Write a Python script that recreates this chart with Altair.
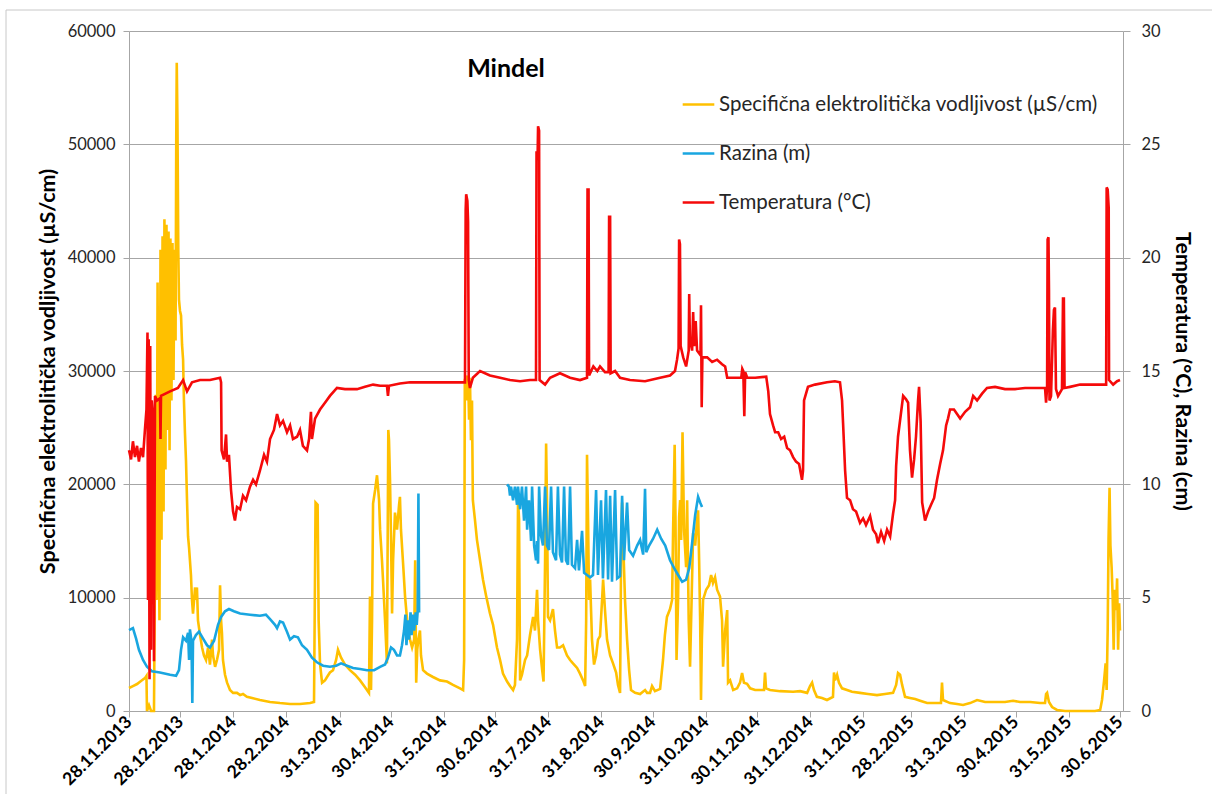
import altair as alt
import pandas as pd

# Monitoring start; all series are given as (days since start, value)
POCETAK = pd.Timestamp("2013-11-28")

# Specifična elektrolitička vodljivost (µS/cm)
SEV = [
    (0, 2030), (2.3, 2200), (4.7, 2380), (7.0, 2650), (9.3, 2900), (10.2, 3100), (10.5, 0), (11.7, 500),
    (12.9, 0), (14.6, 0), (15.2, 13300), (15.6, 27900), (16.1, 9800), (16.7, 37800), (17.2, 18600),
    (17.8, 8000), (18.4, 40700), (19.0, 15100), (19.6, 41900), (20.2, 17600), (20.7, 43400), (21.3, 21300),
    (21.9, 42900), (22.5, 24800), (23.1, 42300), (23.7, 23000), (24.2, 41700), (24.8, 27400), (25.4, 41300),
    (26.0, 29200), (26.6, 40700), (27.2, 32700), (27.6, 50400), (27.9, 57200), (28.3, 52100), (28.8, 40700),
    (29.2, 36300), (29.8, 35300), (30.4, 34900), (31.0, 32300), (31.6, 31000), (32.1, 27400), (32.7, 24500),
    (33.3, 22100), (33.9, 18600), (34.5, 15400), (35.1, 14400), (35.6, 13300), (36.2, 12000), (36.8, 9800),
    (37.4, 8600), (38.6, 10900), (39.1, 9800), (39.7, 10900), (40.3, 8000), (41.5, 6700), (42.7, 5600),
    (43.8, 4900), (45.0, 4500), (46.2, 5600), (47.3, 4100), (48.5, 6300), (49.1, 4900), (50.3, 3900),
    (51.4, 4500), (52.6, 5400), (53.2, 11100), (53.8, 8000), (54.3, 6900), (54.9, 4500), (56.1, 3200),
    (57.3, 2500), (59.0, 1850), (60.8, 1600), (63.1, 1600), (64.9, 1400), (66.6, 1500), (68.9, 1250),
    (71.9, 1150), (76.5, 970), (82.4, 800), (88.2, 700), (94.1, 620), (99.9, 620), (105.8, 700), (108.1, 800),
    (109.0, 18400), (110.2, 18200), (110.8, 8000), (111.6, 4200), (112.8, 2500), (114.5, 2700), (115.7, 3000),
    (117.4, 3400), (119.2, 3600), (121.0, 4500), (122.1, 5400), (123.9, 4700), (126.2, 4100), (129.1, 3600),
    (132.1, 3200), (135.0, 2700), (137.9, 2100), (140.2, 1600), (140.8, 10100), (141.4, 1850), (142.0, 8000),
    (142.6, 18300), (143.8, 19500), (144.9, 20800), (146.1, 18600), (146.7, 16000), (147.8, 13300),
    (148.4, 11600), (149.6, 8000), (150.7, 4200), (151.2, 16900), (151.5, 24800), (151.9, 23900),
    (152.5, 20400), (153.1, 15100), (153.7, 8600), (154.3, 13300), (155.4, 17500), (156.6, 16000),
    (157.8, 18200), (158.3, 18900), (158.9, 16000), (160.1, 13100), (161.3, 10100), (162.5, 8000),
    (163.1, 7100), (164.2, 6300), (165.4, 5600), (166.6, 6300), (167.2, 13300), (167.8, 2500), (168.4, 5400),
    (169.0, 6300), (170.0, 7100), (170.6, 4900), (171.8, 3600), (174.1, 3300), (177.6, 3000), (181.7, 2700),
    (185.8, 2600), (189.3, 2300), (193.4, 2000), (195.2, 1850), (195.8, 4500), (196.2, 29200), (197.0, 29600),
    (197.5, 27400), (198.1, 29600), (198.7, 25700), (199.2, 29400), (199.8, 23900), (200.4, 27400),
    (200.9, 18600), (202.1, 16900), (203.3, 15100), (205.1, 13300), (206.8, 11600), (208.6, 10200),
    (210.9, 8600), (212.7, 7600), (215.0, 5600), (216.8, 4500), (218.5, 3300), (220.9, 2600), (222.6, 2200),
    (224.4, 1850), (225.5, 2300), (226.7, 6300), (227.3, 18600), (227.9, 16900), (228.5, 2700), (229.6, 3200),
    (231.4, 4500), (232.6, 4900), (234.3, 6700), (236.1, 8300), (237.2, 7100), (238.4, 10700), (239.0, 8000),
    (240.2, 5400), (241.4, 3600), (242.2, 2600), (243.1, 13300), (243.7, 23600), (244.2, 18600),
    (244.8, 8300), (246.0, 8000), (247.7, 9000), (248.9, 7100), (250.1, 5600), (251.8, 5600), (253.6, 5800),
    (255.9, 4900), (257.7, 4500), (259.4, 4200), (261.8, 3800), (263.5, 3300), (265.3, 2700), (266.5, 2200),
    (267.1, 8000), (267.6, 22600), (268.2, 16900), (268.8, 9800), (269.4, 11600), (270.5, 6300),
    (271.7, 4100), (272.9, 4900), (274.0, 6300), (275.2, 6600), (276.4, 9800), (277.0, 11600), (278.1, 8900),
    (279.3, 6300), (281.1, 4900), (282.8, 4200), (284.6, 3400), (285.7, 2300), (286.9, 1600), (287.5, 13300),
    (288.1, 18400), (288.7, 15100), (289.8, 9800), (291.0, 6300), (292.2, 3600), (293.3, 1850), (295.7, 1600),
    (298.6, 1500), (301.5, 1850), (302.7, 1600), (304.4, 1600), (305.6, 2200), (307.3, 1750), (310.3, 1950),
    (312.0, 4500), (313.1, 6700), (314.3, 8300), (316.1, 9000), (317.3, 9800), (317.9, 16000), (318.8, 23500),
    (319.3, 16900), (319.9, 4500), (320.8, 9800), (321.4, 17100), (322.0, 18600), (322.6, 15100),
    (323.4, 24600), (324.3, 16000), (325.5, 12700), (326.1, 18600), (327.0, 8000), (327.8, 3900),
    (328.7, 9800), (329.6, 15700), (330.8, 14600), (331.9, 16900), (332.5, 17700), (333.1, 13300),
    (333.7, 8000), (334.2, 970), (334.7, 6300), (335.4, 9800), (337.2, 10700), (338.9, 11100), (340.1, 12000),
    (341.2, 11300), (342.4, 11800), (343.6, 10700), (345.3, 10100), (346.5, 8000), (347.1, 3900),
    (348.3, 7100), (349.5, 8900), (350.0, 2500), (351.2, 2700), (353.0, 1850), (355.3, 2000), (357.0, 2500),
    (358.2, 3350), (359.3, 2500), (361.1, 2400), (362.9, 2000), (365.8, 1850), (368.7, 1850), (371.0, 1850),
    (371.6, 3400), (372.2, 2000), (374.5, 1850), (380.4, 1750), (388.0, 1700), (392.1, 1750), (396.2, 1600),
    (397.9, 2200), (399.1, 2500), (400.2, 1850), (401.9, 1250), (404.9, 1150), (407.8, 970), (411.3, 1250),
    (411.9, 3400), (412.5, 2700), (413.7, 3200), (414.8, 2500), (416.6, 2000), (419.5, 1850), (422.4, 1700),
    (427.1, 1600), (431.8, 1500), (437.0, 1400), (441.7, 1500), (446.4, 1600), (448.2, 2300), (449.3, 3350),
    (450.5, 3200), (451.7, 2300), (453.4, 1250), (456.3, 1150), (459.3, 1050), (462.2, 900), (466.3, 700),
    (471.0, 700), (474.4, 700), (475.0, 2500), (475.6, 970), (479.7, 700), (483.8, 620), (487.3, 530),
    (491.4, 700), (495.5, 970), (500.2, 800), (506.0, 800), (511.8, 800), (516.5, 900), (520.6, 800),
    (526.5, 800), (532.3, 700), (535.2, 700), (535.8, 1500), (536.4, 1600), (537.5, 800), (539.3, 350),
    (542.2, 90), (546.9, 0), (555.7, 0), (564.4, 0), (567.4, 90), (568.5, 970), (569.7, 2700), (570.6, 4200),
    (571.2, 1850), (571.8, 7100), (572.3, 15100), (572.9, 19700), (573.4, 14600), (574.1, 12700),
    (574.7, 10100), (575.3, 5400), (575.9, 10700), (576.7, 8900), (577.3, 11700), (577.9, 5400),
    (578.5, 9500), (579.0, 7100),
]

# Razina: first logging period
RAZINA_A = [
    (0, 3.57), (2.3, 3.66), (4.1, 3.2), (5.8, 2.7), (8.2, 2.25), (10.5, 1.95), (13.4, 1.75), (18.1, 1.7),
    (24.0, 1.6), (27.5, 1.55), (29.2, 1.8), (30.4, 2.7), (31.6, 3.25), (33.3, 3.1), (34.5, 3.45), (35.1, 2.25),
    (35.6, 3.6), (36.5, 3.1), (37.0, 0.35), (37.4, 3.1), (39.1, 3.35), (40.9, 3.5), (43.2, 3.2), (45.6, 2.9),
    (47.3, 2.8), (49.7, 3.1), (52.0, 3.8), (53.8, 4.15), (56.1, 4.4), (58.4, 4.5), (61.3, 4.4), (64.9, 4.3),
    (70.7, 4.25), (76.5, 4.2), (80.0, 4.25), (82.4, 4.05), (85.3, 3.8), (86.5, 3.65), (88.2, 3.95), (90.0, 3.9),
    (92.3, 3.5), (94.1, 3.15), (96.4, 3.3), (98.7, 3.25), (101.1, 2.9), (104.0, 2.7), (106.9, 2.35),
    (109.8, 2.15), (113.4, 2.0), (117.4, 1.95), (121.0, 2.0), (123.9, 2.1), (127.4, 2.0), (130.9, 1.9),
    (135.0, 1.85), (139.1, 1.8), (143.2, 1.8), (146.7, 1.95), (149.6, 2.05), (151.3, 2.35), (153.1, 2.8),
    (154.8, 2.7), (156.6, 2.45), (158.3, 2.45), (159.5, 2.9), (160.7, 3.55), (161.5, 4.25), (162.1, 2.9),
    (163.0, 4.0), (163.6, 3.15), (164.5, 4.35), (165.1, 3.35), (166.0, 4.25), (166.6, 3.55), (167.5, 4.35),
    (168.1, 3.8), (168.7, 4.45), (169.1, 9.6), (169.5, 4.35),
]

# Razina: second logging period
RAZINA_B = [
    (220.9, 10.0), (222.0, 9.9), (222.6, 9.5), (223.2, 9.9), (224.4, 9.3), (225.5, 9.9), (226.7, 9.1),
    (227.3, 9.9), (228.5, 8.9), (229.6, 9.9), (230.8, 8.4), (232.0, 9.9), (232.6, 8.0), (233.7, 9.3),
    (234.9, 7.5), (235.5, 9.9), (236.7, 7.3), (237.8, 6.65), (238.4, 7.5), (239.0, 6.5), (239.6, 9.9),
    (240.7, 7.75), (241.9, 7.3), (243.1, 9.9), (244.2, 7.3), (245.4, 7.1), (246.6, 9.9), (247.7, 7.0),
    (249.5, 6.65), (250.6, 9.9), (251.8, 6.9), (253.0, 6.55), (254.2, 9.9), (255.3, 6.65), (256.5, 6.45),
    (257.7, 9.9), (258.8, 6.45), (260.6, 6.3), (261.8, 7.55), (262.9, 6.2), (264.7, 7.95), (265.9, 6.1),
    (267.6, 6.0), (269.4, 5.9), (271.1, 6.0), (272.9, 9.75), (274.0, 6.0), (275.8, 9.3), (276.9, 5.85),
    (278.7, 9.75), (279.9, 5.8), (281.1, 9.5), (282.2, 5.7), (284.0, 9.75), (285.2, 5.85), (286.9, 5.95),
    (288.1, 9.5), (289.2, 6.65), (291.0, 9.2), (292.2, 7.1), (294.5, 6.85), (296.9, 7.3), (298.6, 7.55),
    (300.4, 6.9), (301.5, 9.8), (302.2, 7.0), (303.9, 7.3), (306.2, 7.6), (308.6, 8.0), (310.9, 7.6),
    (313.3, 7.3), (316.1, 6.65), (318.5, 6.3), (320.8, 6.0), (323.2, 5.7), (325.5, 5.8), (327.3, 6.3),
    (329.0, 7.4), (330.8, 8.65), (332.5, 9.45), (333.7, 9.2), (334.8, 9.0),
]

# Temperatura (°C)
TEMP = [
    (0, 11.5), (1.2, 11.1), (2.3, 11.9), (3.5, 11.2), (4.7, 11.7), (5.8, 11.0), (7.0, 11.6), (8.2, 11.2),
    (9.3, 12.4), (10.2, 13.3), (10.8, 16.7), (11.1, 4.9), (11.5, 16.4), (12.0, 1.4), (12.4, 16.1),
    (12.9, 2.7), (13.3, 13.7), (14.2, 12.8), (14.6, 2.2), (15.2, 13.9), (16.4, 13.7), (18.1, 13.8),
    (18.4, 12.0), (18.7, 13.9), (24.0, 14.1), (28.6, 14.25), (31.6, 14.6), (33.9, 14.1), (36.8, 14.5),
    (41.5, 14.6), (47.3, 14.6), (53.2, 14.7), (53.8, 14.5), (54.1, 11.5), (55.5, 11.1), (56.7, 12.2),
    (57.3, 11.0), (58.4, 11.3), (59.6, 9.75), (60.8, 8.8), (61.9, 8.4), (63.1, 9.0), (64.9, 8.9), (66.6, 9.5),
    (68.4, 9.3), (70.7, 9.9), (72.5, 10.2), (74.2, 10.0), (76.5, 10.6), (78.9, 11.3), (80.6, 11.0),
    (82.4, 12.0), (84.7, 12.4), (86.5, 13.1), (88.2, 12.6), (90.0, 12.8), (92.3, 12.3), (94.1, 12.6),
    (95.8, 12.0), (98.2, 12.1), (99.9, 12.4), (101.6, 11.7), (104.0, 11.5), (105.2, 12.0), (106.3, 13.2),
    (106.9, 12.0), (108.7, 12.9), (111.6, 13.3), (114.5, 13.6), (117.4, 13.9), (121.5, 14.25), (126.2, 14.2),
    (133.2, 14.2), (137.9, 14.3), (142.6, 14.4), (146.7, 14.35), (150.7, 14.35), (151.3, 13.9),
    (151.9, 14.35), (158.3, 14.45), (164.2, 14.5), (170.0, 14.5), (175.9, 14.5), (181.7, 14.5), (190.5, 14.5),
    (196.3, 14.5), (196.7, 22.1), (197.0, 22.8), (197.7, 22.5), (198.1, 21.6), (198.5, 14.6), (199.2, 14.25),
    (200.9, 14.7), (205.1, 15.0), (210.9, 14.8), (216.8, 14.7), (222.6, 14.6), (228.5, 14.55), (234.3, 14.6),
    (237.8, 14.6), (238.1, 24.7), (238.7, 24.3), (239.0, 25.8), (239.6, 25.6), (239.9, 14.6), (243.1, 14.4),
    (246.0, 14.7), (251.8, 14.9), (257.7, 14.7), (263.5, 14.6), (267.6, 14.7), (267.9, 23.0), (268.5, 23.0),
    (268.8, 14.8), (271.3, 15.2), (273.6, 15.0), (275.2, 15.2), (278.1, 14.95), (280.2, 14.95), (280.5, 21.8),
    (281.1, 21.8), (281.4, 14.9), (284.0, 15.0), (286.9, 14.7), (292.7, 14.6), (301.5, 14.55), (310.3, 14.7),
    (316.1, 14.8), (319.0, 15.0), (320.2, 15.5), (321.1, 16.0), (321.4, 20.8), (321.9, 20.6), (322.3, 16.1),
    (323.8, 15.6), (325.5, 15.2), (327.0, 15.9), (327.3, 18.4), (327.7, 16.4), (329.0, 15.9), (329.6, 17.6),
    (330.2, 16.1), (331.1, 17.2), (331.9, 15.9), (333.9, 15.7), (334.2, 17.9), (334.6, 13.4), (335.0, 15.6),
    (337.8, 15.6), (340.7, 15.4), (343.6, 15.5), (346.5, 15.3), (348.3, 15.2), (349.5, 14.7), (354.2, 14.7),
    (357.7, 14.7), (358.3, 15.1), (358.9, 15.0), (359.5, 13.0), (360.0, 14.95), (361.2, 14.7), (365.9, 14.7),
    (372.3, 14.75), (373.5, 14.1), (374.5, 13.1), (376.3, 12.6), (377.5, 12.3), (379.3, 12.3), (381.0, 12.0),
    (382.8, 12.1), (384.5, 11.6), (386.2, 11.5), (388.0, 11.2), (389.7, 11.0), (391.5, 10.9), (393.2, 10.2),
    (393.8, 10.6), (394.4, 13.7), (396.7, 14.3), (400.8, 14.4), (407.8, 14.5), (412.4, 14.55), (415.4, 14.5),
    (416.6, 13.7), (417.2, 12.7), (418.4, 10.6), (419.5, 9.4), (421.3, 9.3), (423.0, 8.9), (424.8, 8.8),
    (427.1, 8.3), (428.9, 8.5), (430.6, 8.2), (433.0, 8.6), (434.7, 8.0), (436.5, 7.8), (437.6, 7.4),
    (439.4, 7.9), (441.2, 7.5), (442.9, 8.0), (444.7, 7.7), (446.4, 8.7), (447.6, 9.3), (448.2, 10.8),
    (449.3, 12.1), (452.3, 13.9), (454.0, 13.75), (455.2, 13.6), (456.3, 11.5), (457.5, 10.3), (458.7, 11.1),
    (459.8, 12.1), (461.0, 13.7), (461.6, 14.3), (462.5, 12.8), (463.4, 9.2), (465.1, 8.4), (466.9, 8.8),
    (468.6, 9.1), (470.4, 9.4), (472.1, 10.2), (473.9, 10.9), (475.6, 11.5), (477.4, 12.6), (478.5, 12.9),
    (479.7, 13.3), (482.0, 13.3), (483.8, 13.1), (485.6, 12.9), (488.5, 13.2), (491.4, 13.4), (493.2, 13.9),
    (495.5, 13.7), (498.4, 14.0), (501.3, 14.25), (506.0, 14.3), (511.8, 14.2), (517.7, 14.2), (523.5, 14.25),
    (529.4, 14.25), (535.2, 14.25), (535.8, 13.6), (536.4, 14.25), (536.7, 20.8), (537.2, 20.9), (537.5, 18.6),
    (537.8, 13.7), (538.7, 13.9), (539.8, 16.8), (540.4, 17.7), (541.0, 17.8), (541.6, 14.2), (542.8, 13.9),
    (545.1, 14.2), (545.7, 18.2), (546.2, 18.2), (546.6, 14.25), (549.8, 14.3), (555.7, 14.4), (561.5, 14.4),
    (567.4, 14.4), (570.9, 14.4), (571.2, 23.1), (571.8, 23.0), (572.4, 22.2), (572.6, 14.6), (575.0, 14.4),
    (577.3, 14.55), (579.0, 14.6),
]

TICK_LABELS = [
    "28.11.2013", "28.12.2013", "28.1.2014", "28.2.2014", "31.3.2014", "30.4.2014", "31.5.2014",
    "30.6.2014", "31.7.2014", "31.8.2014", "30.9.2014", "31.10.2014", "30.11.2014", "31.12.2014",
    "31.1.2015", "28.2.2015", "31.3.2015", "30.4.2015", "31.5.2015", "30.6.2015",
]
LEFT_TICKS = [0, 10000, 20000, 30000, 40000, 50000, 60000]
RIGHT_TICKS = [0, 5, 10, 15, 20, 25, 30]

SERIES = [
    "Specifična elektrolitička vodljivost (µS/cm)",
    "Razina (m)",
    "Temperatura (°C)",
]
COLORS = ["#FFC000", "#19A6E0", "#F50A0A"]

FONT = "Lato"
GRID = "#A6A6A6"
LINE_W = 2.6


def frame(pairs, name, segment):
    df = pd.DataFrame(pairs, columns=["dan", "vrijednost"])
    df["datum"] = POCETAK + pd.to_timedelta(df["dan"], unit="D")
    df["serija"] = name
    df["segment"] = segment
    return df[["datum", "vrijednost", "serija", "segment"]]


lijevo = frame(SEV, SERIES[0], "sev")
desno = pd.concat(
    [
        frame(RAZINA_A, SERIES[1], "razina_a"),
        frame(RAZINA_B, SERIES[1], "razina_b"),
        frame(TEMP, SERIES[2], "temp"),
    ],
    ignore_index=True,
)


def dt(ts):
    return alt.DateTime(year=ts.year, month=ts.month, date=ts.day, hours=ts.hour)


tick_dates = [pd.to_datetime(t, format="%d.%m.%Y") for t in TICK_LABELS]
x_domain = [dt(POCETAK), dt(pd.Timestamp("2015-07-01 18:00"))]

x_enc = alt.X(
    "datum:T",
    scale=alt.Scale(domain=x_domain, nice=False),
    axis=alt.Axis(
        values=[dt(t) for t in tick_dates],
        format="%-d.%-m.%Y",
        labelAngle=-45,
        labelAlign="right",
        labelBaseline="middle",
        labelFont=FONT,
        labelFontSize=17.5,
        labelFontWeight="bold",
        labelColor="#000000",
        labelPadding=2,
        labelOverlap=False,
        tickColor=GRID,
        tickSize=6,
        domainColor=GRID,
        grid=False,
        title=None,
    ),
)

color_enc = alt.Color(
    "serija:N",
    scale=alt.Scale(domain=SERIES, range=COLORS),
    legend=alt.Legend(
        title=None,
        orient="none",
        direction="vertical",
        legendX=552,
        legendY=56,
        symbolType="stroke",
        symbolSize=1000,
        symbolStrokeWidth=2.4,
        labelFont=FONT,
        labelFontSize=20.5,
        labelColor="#262626",
        labelOffset=3,
        labelLimit=600,
        rowPadding=21,
    ),
)

vodljivost = (
    alt.Chart(lijevo)
    .mark_line(strokeWidth=LINE_W, interpolate="linear")
    .encode(
        x=x_enc,
        y=alt.Y(
            "vrijednost:Q",
            scale=alt.Scale(domain=[0, 60000], nice=False, zero=True),
            axis=alt.Axis(
                orient="left",
                values=LEFT_TICKS,
                format="d",
                labelFont=FONT,
                labelFontSize=16.5,
                labelColor="#262626",
                labelPadding=8,
                tickColor=GRID,
                tickSize=6,
                domainColor=GRID,
                grid=True,
                gridColor=GRID,
                title="Specifična elektrolitička vodljivost (µS/cm)",
                titleFont=FONT,
                titleFontSize=21.5,
                titleFontWeight="bold",
                titleColor="#000000",
                titlePadding=8,
            ),
        ),
        color=color_enc,
        detail="segment:N",
    )
)

desna_os = (
    alt.Chart(desno)
    .mark_line(strokeWidth=LINE_W, interpolate="linear")
    .encode(
        x=x_enc,
        y=alt.Y(
            "vrijednost:Q",
            scale=alt.Scale(domain=[0, 30], nice=False, zero=True),
            axis=alt.Axis(
                orient="right",
                values=RIGHT_TICKS,
                format="d",
                labelFont=FONT,
                labelFontSize=16.5,
                labelColor="#262626",
                labelPadding=11,
                tickColor=GRID,
                tickSize=7,
                domainColor=GRID,
                grid=False,
                title="Temperatura (°C), Razina (cm)",
                titleFont=FONT,
                titleFontSize=21.5,
                titleFontWeight="bold",
                titleColor="#000000",
                titlePadding=10,
            ),
        ),
        color=color_enc,
        detail="segment:N",
    )
)

naslov = (
    alt.Chart(pd.DataFrame({"naslov": ["Mindel"]}))
    .mark_text(font=FONT, fontSize=25, fontWeight="bold", color="#000000", align="center", baseline="alphabetic")
    .encode(text="naslov:N", x=alt.value(377), y=alt.value(46))
)

okvir_lijevo = (
    alt.Chart(pd.DataFrame({"k": [0]}))
    .mark_rule(color="#C8C8C8", strokeWidth=1)
    .encode(x=alt.value(-123), y=alt.value(-21), y2=alt.value(770))
)
okvir_gore = (
    alt.Chart(pd.DataFrame({"k": [0]}))
    .mark_rule(color="#C8C8C8", strokeWidth=1)
    .encode(x=alt.value(-123), x2=alt.value(1090), y=alt.value(-21))
)

chart = (
    alt.layer(vodljivost, desna_os, naslov, okvir_lijevo, okvir_gore)
    .resolve_scale(y="independent")
    .properties(
        width=994,
        height=680,
        autosize=alt.AutoSizeParams(type="none"),
        padding={"left": 129, "top": 31, "right": 89, "bottom": 83},
        background="#FFFFFF",
    )
    .configure_view(stroke=None)
)

chart.save("out.html", embed_options={"renderer": "svg", "actions": False})
